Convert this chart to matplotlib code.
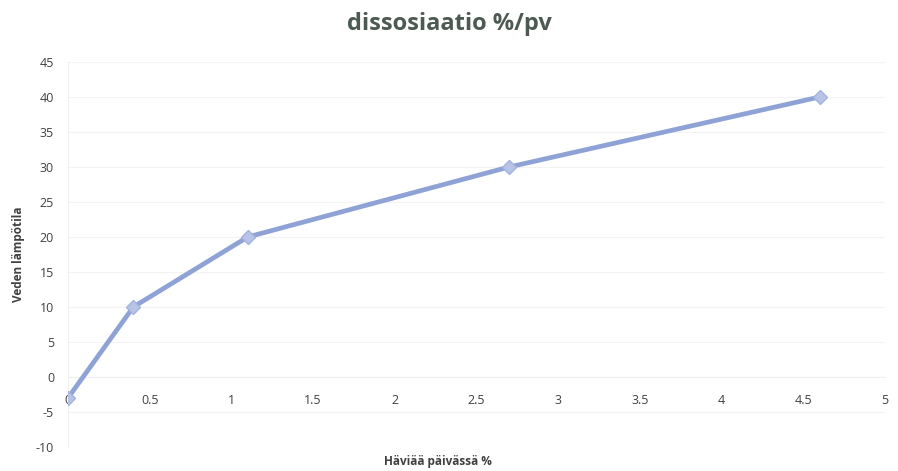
import matplotlib
matplotlib.use("Agg")
from matplotlib import pyplot as plt

# data
loss_pct = [0, 0.4, 1.1, 2.7, 4.6]
water_temp = [-3, 10, 20, 30, 40]
x_ticks = [0, 0.5, 1, 1.5, 2, 2.5, 3, 3.5, 4, 4.5, 5]
y_ticks = [-10, -5, 0, 5, 10, 15, 20, 25, 30, 35, 40, 45]

plt.rcParams["font.family"] = ["Open Sans", "DejaVu Sans"]

figure = plt.figure(figsize=(8.98, 4.71), dpi=100)
axis = figure.add_axes([0.0757, 0.051, 0.9098, 0.8174])

axis.plot(loss_pct, water_temp, color="#8ea2d6", linewidth=3.4,
          marker="D", markersize=7, markerfacecolor="#b7c4e8",
          markeredgecolor="#a3b3df", markeredgewidth=1, zorder=3)

axis.set_xlim(0, 5)
axis.set_ylim(-10, 45)
axis.set_xticks(x_ticks)
axis.set_yticks(y_ticks)
axis.set_xticklabels([f"{t:g}" for t in x_ticks])
axis.set_yticklabels([f"{t:g}" for t in y_ticks])
axis.tick_params(length=0, labelsize=9, colors="#404040")
axis.tick_params(axis="y", pad=10)
axis.tick_params(axis="x", pad=12)

axis.grid(axis="y", color="#f3f3f3", linewidth=0.8)
axis.set_axisbelow(True)
for side in ["top", "right"]:
    axis.spines[side].set_visible(False)
axis.spines["bottom"].set_position(("data", 0))
axis.spines["bottom"].set_color("#f0f0f0")
axis.spines["left"].set_color("#f0f0f0")

axis.set_xlabel("Häviää päivässä %", fontsize=8.5, fontweight="bold",
                color="#404040")
axis.xaxis.set_label_coords(0.453, -0.02)
axis.set_ylabel("Veden lämpötila", fontsize=8.5, fontweight="bold",
                color="#404040")
axis.yaxis.set_label_coords(-0.052, 0.5)

figure.text(0.5, 0.95, "dissosiaatio %/pv", ha="center", va="center",
            fontsize=17, fontweight="bold", color="#4d5a52")

figure.savefig("out.png", dpi=100)
plt.close(figure)
